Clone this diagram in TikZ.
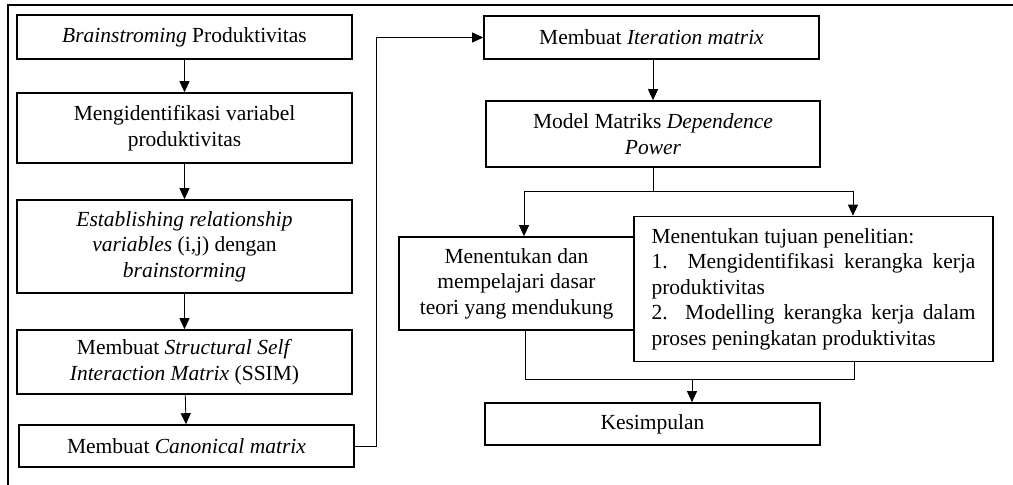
\documentclass[tikz,border=0pt]{standalone}
\usepackage{fontspec}
\setmainfont{Liberation Serif}
\usepackage{tikz}
\usetikzlibrary{arrows.meta,positioning,calc}

\begin{document}
\begin{tikzpicture}[x=1pt,y=-1pt,
  every node/.style={align=center,font=\fontsize{21.5}{25.5}\selectfont},
  process/.style={draw,line width=1.6pt,inner sep=0pt,minimum width=335pt},
  tujuanbox/.style={draw,line width=1.6pt,align=justify,text width=324pt,inner xsep=17.5pt,inner ysep=0pt,minimum height=145pt},
  line/.style={line width=0.8pt},
  to/.style={line,-{Triangle[length=11pt,width=10pt]}},
  frame/.style={line width=2.2pt}]

    \useasboundingbox (0,0) rectangle (1013,485);
    \draw[frame] (8,485) -- (8,5) -- (1013,5);

    \node[process,minimum height=44pt](brain) at (184.5,37) {\textit{Brainstroming} Produktivitas};
    \node[process,minimum height=70pt](ident) at (184.5,128) {Mengidentifikasi variabel\\ produktivitas};
    \node[process,minimum height=93pt](relasi) at (184.5,246.5) {\textit{Establishing relationship}\\ \textit{variables} (i,j) dengan\\ \textit{brainstorming}};
    \node[process,minimum height=64pt](ssim) at (184.5,362) {Membuat \textit{Structural Self}\\ \textit{Interaction Matrix} (SSIM)};
    \node[process,minimum height=42pt](canon) at (186.5,446) {Membuat \textit{Canonical matrix}};

    \node[process,minimum height=43pt](iter) at (651.5,37.5) {Membuat \textit{Iteration matrix}};
    \node[process,minimum height=66pt,minimum width=334pt](power) at (653,134) {Model Matriks \textit{Dependence}\\ \textit{Power}};
    \node[process,minimum height=93pt,minimum width=235pt](teori) at (516.5,283.5) {Menentukan dan\\ mempelajari dasar\\ teori yang mendukung};
    \node[tujuanbox](tujuan) at (813.5,289) {Menentukan tujuan penelitian:\\
      1. Mengidentifikasi kerangka kerja\linebreak produktivitas\\
      2. Modelling kerangka kerja dalam\linebreak proses peningkatan produktivitas};
    \node[process,minimum height=42pt](simpul) at (652.5,424) {Kesimpulan};

    \coordinate (kiri) at (524,191);
    \coordinate (kanan) at (853,191);
    \coordinate (bawahkiri) at (525,379);
    \coordinate (bawahkanan) at (854,379);
    \coordinate (tengah) at (692,379);

    \draw[to](brain) -- (ident);
    \draw[to](ident) -- (relasi);
    \draw[to](relasi) -- (ssim);
    \draw[to](ssim) -- (canon);
    \draw[to](canon.east) -- ++(22,0) |- (iter.west);
    \draw[to](iter.south -| power.north) -- (power.north);
    \draw[line](power.south) -- (power.south |- kiri);
    \draw[line](kiri) -- (kanan);
    \draw[to](kiri) -- (kiri |- teori.north);
    \draw[to](kanan) -- (kanan |- tujuan.north);
    \draw[line](teori.south -| bawahkiri) -- (bawahkiri) -- (bawahkanan) -- (tujuan.south -| bawahkanan);
    \draw[to](tengah) -- (tengah |- simpul.north);
\end{tikzpicture}
\end{document}
